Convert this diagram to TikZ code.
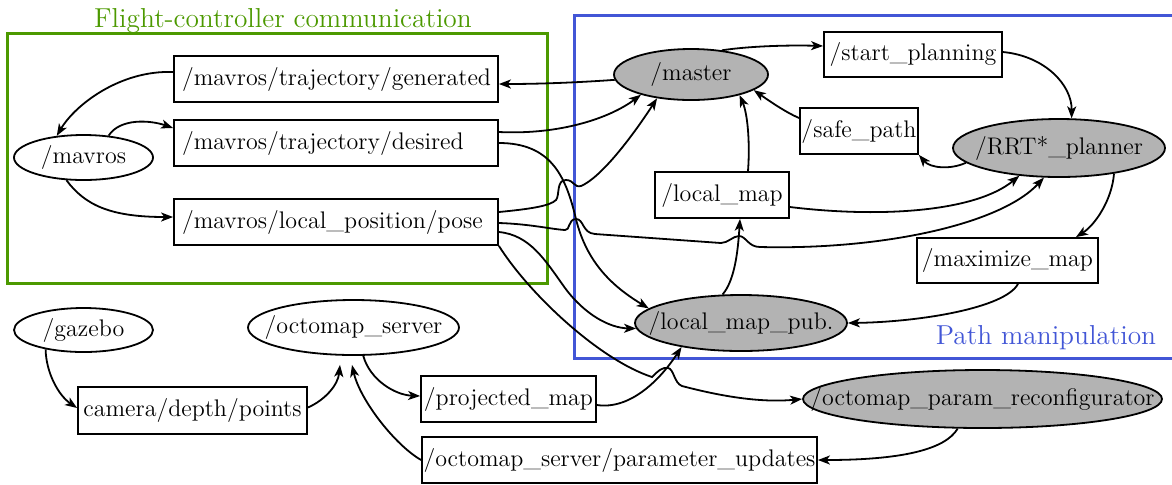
\documentclass[tikz,border=0pt]{standalone}
\usetikzlibrary{arrows.meta,calc,shapes.geometric}
\definecolor{fcgreen}{RGB}{76,153,0}
\definecolor{pmblue}{RGB}{66,86,214}
\definecolor{activegray}{RGB}{179,179,179}
\begin{document}
\begin{tikzpicture}[x=0.5pt,y=-0.5pt,
  labelfont/.style={font=\fontsize{12}{14}\selectfont},
  topic/.style={draw, rectangle, fill=white, line width=0.9pt, inner sep=0pt, labelfont},
  mavtopic/.style={topic, text width=154pt, align=left, inner xsep=4pt, minimum height=23pt},
  rosnode/.style={draw, ellipse, fill=white, line width=0.9pt, inner sep=0pt,
    label={[labelfont]center:#1}},
  active/.style={rosnode=#1, fill=activegray},
  link/.style={draw, line width=0.9pt, -{Stealth[length=6pt,width=4.5pt,inset=1.6pt]}},
  grouptitle/.style={font=\fontsize{13.7}{16}\selectfont, anchor=base}]
\useasboundingbox (0,0) rectangle (1172,484);

% group frames
\draw[fcgreen, line width=1.5pt] (7,33) rectangle (547,283);
\draw[pmblue, line width=1.5pt] (1180,15) -- (574,15) -- (574,358) -- (1180,358);
\node[grouptitle, text=fcgreen] (fctitle) at (283,27) {Flight-controller communication};
\node[grouptitle, text=pmblue] (pmtitle) at (1046,344) {Path manipulation};

% flight-controller topics
\node[rosnode=/mavros, minimum width=69.5pt, minimum height=22.5pt] (mavros) at (83.5,157.5) {};
\node[mavtopic] (gen) at (336,79) {/mavros/trajectory/generated};
\node[mavtopic] (des) at (336,143) {/mavros/trajectory/desired};
\node[mavtopic] (pose) at (336,222) {/mavros/local\_position/pose};

% path manipulation
\node[active=/master, minimum width=77pt, minimum height=25.5pt] (master) at (691,74.5) {};
\node[topic, minimum width=89pt, minimum height=22.5pt] (start) at (913,54.5) {/start\_planning};
\node[topic, minimum width=59pt, minimum height=23pt] (safe) at (859,131) {/safe\_path};
\node[active=/RRT*\_planner, minimum width=106pt, minimum height=29pt] (rrt) at (1059,148) {};
\node[topic, minimum width=67pt, minimum height=23pt] (localmap) at (722,195) {/local\_map};
\node[topic, minimum width=90.5pt, minimum height=22.5pt] (maxmap) at (1007.5,260.5) {/maximize\_map};
\node[active=/local\_map\_pub., minimum width=106pt, minimum height=28pt] (pub) at (741,323) {};

% simulation and mapping
\node[rosnode=/gazebo, minimum width=69.5pt, minimum height=22pt] (gazebo) at (83.5,330) {};
\node[rosnode=/octomap\_server, minimum width=105.5pt, minimum height=27.5pt] (octo) at (353.5,327.5) {};
\node[topic, minimum width=114.5pt, minimum height=23.5pt] (camera) at (192.5,410.5) {camera/depth/points};
\node[topic, minimum width=87.5pt, minimum height=23pt] (proj) at (508.5,399) {/projected\_map};
\node[topic, minimum width=197.5pt, minimum height=23pt] (param) at (619.5,460) {/octomap\_server/parameter\_updates};
\node[active=/octomap\_param\_reconfigurator, minimum width=179.5pt, minimum height=29pt] (recon) at (982.5,399) {};

% mavros links
\draw[link] ($(gen.west)+(0,-7)$) .. controls (120,70) and (75,105) .. (mavros.141);
\draw[link] (mavros.41) .. controls (120,118) and (150,120) .. ($(des.west)+(0,-15)$);
\draw[link] (mavros.233) .. controls (85,205) and (110,217) .. ($(pose.west)+(0,-5)$);
\draw[link] (master.184) .. controls (585,82) and (545,84) .. ($(gen.east)+(0,5)$);
\draw[link] ($(des.east)+(0,-11)$) .. controls (560,135) and (610,118) .. (master.202);
\draw[link] (des.east) .. controls (550,143) and (565,175) .. (575,215)
  .. controls (585,260) and (610,285) .. (pub.171);
\draw[link] ($(pose.east)+(0,-10)$) .. controls (530,209) and (550,206) .. (556,200)
  .. controls (560,195) and (556,180) .. (566,180)
  .. controls (574,180) and (574,188) .. (581,186)
  .. controls (600,178) and (630,140) .. (master.215);
\draw[link] ($(pose.east)+(0,1)$) .. controls (530,224) and (550,229) .. (565,230)
  .. controls (570,231) and (568,219) .. (576,219)
  .. controls (584,219) and (582,233) .. (595,234) -- (721,243)
  .. controls (728,243) and (733,236) .. (739,236)
  .. controls (746,236) and (748,247) .. (760,247)
  .. controls (880,250) and (1000,225) .. (rrt.243);
\draw[link] ($(pose.east)+(0,10)$) .. controls (530,235) and (545,260) .. (565,288)
  .. controls (585,315) and (610,328) .. (pub.183);
\draw[link] (pose.south east) .. controls (530,295) and (600,360) .. (652,377)
  .. controls (658,371) and (662,367) .. (668,368)
  .. controls (674,369) and (674,383) .. (682,386)
  .. controls (720,396) and (760,403) .. (recon.west);

% planning loop
\draw[link] (master.38) .. controls (750,46) and (790,45) .. ($(start.west)+(0,-8.5)$);
\draw[link] ($(start.east)+(0,-2.5)$) .. controls (1045,56) and (1072,85) .. (rrt.67);
\draw[link] (rrt.189) .. controls (950,170) and (930,168) .. (safe.south east);
\draw[link] ($(safe.west)+(0,-13)$) .. controls (785,112) and (768,100) .. (master.346);
\draw[link] ($(localmap.north)+(26,0)$) .. controls (750,145) and (748,115) .. (master.337);
\draw[link] ($(localmap.east)+(0,12)$) .. controls (880,218) and (975,212) .. (rrt.215);
\draw[link] (rrt.335) .. controls (1112,200) and (1095,225) .. ($(maxmap.north east)+(-23,0)$);
\draw[link] ($(maxmap.south)+(10.5,0)$) .. controls (1005,308) and (920,322) .. (pub.east);
\draw[link] (pub.123) .. controls (735,280) and (738,250) .. ($(localmap.south)+(18,0)$);

% octomap links
\draw[link] ($(proj.east)+(0,6)$) .. controls (630,410) and (660,380) .. (pub.202);
\draw[link] (recon.230) .. controls (945,450) and (900,460) .. (param.east);
\draw[link] (param.west) .. controls (395,445) and (360,400) .. ($(octo.south)+(-1.5,9)$);
\draw[link] (octo.289) .. controls (370,380) and (395,395) .. ($(proj.west)+(0,-3)$);
\draw[link] ($(camera.east)+(0,-3)$) .. controls (325,400) and (338,385) .. ($(octo.south)+(-13.5,9)$);
\draw[link] (gazebo.207) .. controls (46,372) and (58,395) .. ($(camera.west)+(0,-2.5)$);
\end{tikzpicture}
\end{document}
